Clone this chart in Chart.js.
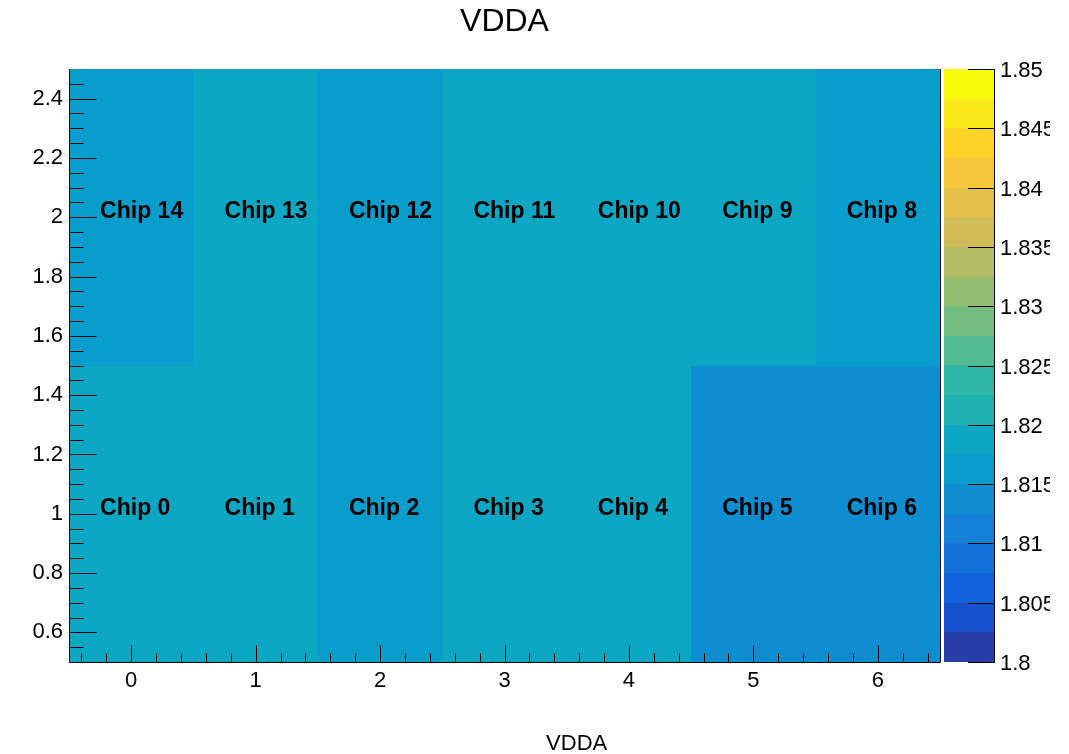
<!DOCTYPE html>
<html>
<head>
<meta charset="utf-8">
<title>VDDA</title>
<script src="https://cdn.jsdelivr.net/npm/chart.js@4.4.1/dist/chart.umd.min.js"></script>
<style>
  html, body { margin: 0; padding: 0; background: #ffffff; }
  canvas { display: block; }
</style>
</head>
<body>
<canvas id="chart" width="1069" height="754"></canvas>
<script>
// Module layout: seven columns, two rows of chips
const columns = [0, 1, 2, 3, 4, 5, 6];
const rowBottom = 1;
const rowTop = 2;
const chipsBottom = ['Chip 0', 'Chip 1', 'Chip 2', 'Chip 3', 'Chip 4', 'Chip 5', 'Chip 6'];
const chipsTop = ['Chip 14', 'Chip 13', 'Chip 12', 'Chip 11', 'Chip 10', 'Chip 9', 'Chip 8'];
// Measured VDDA per chip (V)
const vddaBottom = [1.819, 1.819, 1.816, 1.819, 1.819, 1.814, 1.814];
const vddaTop = [1.816, 1.819, 1.816, 1.819, 1.819, 1.819, 1.816];
// Axis ticks
const xTicks = [0, 1, 2, 3, 4, 5, 6];
const yTicks = [0.6, 0.8, 1, 1.2, 1.4, 1.6, 1.8, 2, 2.2, 2.4];
const zTicks = [1.8, 1.805, 1.81, 1.815, 1.82, 1.825, 1.83, 1.835, 1.84, 1.845, 1.85];
const zMin = 1.8;
const zMax = 1.85;
const nLevels = 20;
const titleText = 'VDDA';
const xTitleText = 'VDDA';

const FONT = '"Liberation Sans", Arial, Helvetica, sans-serif';

// "Bird" colour map (parula-like) stops
const birdStops = [0.0, 0.125, 0.25, 0.375, 0.5, 0.625, 0.75, 0.875, 1.0];
const birdR = [0.2082, 0.0592, 0.0780, 0.0232, 0.1802, 0.5301, 0.8186, 0.9956, 0.9764];
const birdG = [0.1664, 0.3599, 0.5041, 0.6419, 0.7178, 0.7492, 0.7328, 0.7862, 0.9832];
const birdB = [0.5293, 0.8684, 0.8385, 0.7914, 0.6425, 0.4662, 0.3499, 0.1968, 0.0539];

function birdColor(f) {
  f = Math.max(0, Math.min(1, f));
  let i = 0;
  while (i < birdStops.length - 2 && f > birdStops[i + 1]) i++;
  const t = (f - birdStops[i]) / (birdStops[i + 1] - birdStops[i]);
  const c = a => Math.round(255 * (a[i] + t * (a[i + 1] - a[i])));
  return `rgb(${c(birdR)},${c(birdG)},${c(birdB)})`;
}
// colour of contour level k (0..nLevels-1)
function levelColor(k) {
  const idx = Math.floor((k + 0.99) * 255 / nLevels);
  return birdColor(idx / 254);
}
function valueColor(v) {
  let k = Math.floor((v - zMin) / (zMax - zMin) * nLevels);
  k = Math.max(0, Math.min(nLevels - 1, k));
  return levelColor(k);
}

function cells() {
  const out = [];
  columns.forEach((x, i) => {
    out.push({ x, y: rowBottom, v: vddaBottom[i], label: chipsBottom[i] });
    out.push({ x, y: rowTop, v: vddaTop[i], label: chipsTop[i] });
  });
  return out;
}

const heatmapPlugin = {
  id: 'heatmap',
  beforeDatasetsDraw(chart) {
    const { ctx, chartArea: a, scales: { x, y } } = chart;
    ctx.save();
    ctx.beginPath();
    ctx.rect(a.left, a.top, a.right - a.left, a.bottom - a.top);
    ctx.clip();
    cells().forEach(c => {
      const x0 = x.getPixelForValue(c.x - 0.5), x1 = x.getPixelForValue(c.x + 0.5);
      const y0 = y.getPixelForValue(c.y + 0.5), y1 = y.getPixelForValue(c.y - 0.5);
      ctx.fillStyle = valueColor(c.v);
      ctx.fillRect(Math.round(x0), Math.round(y0), Math.round(x1) - Math.round(x0), Math.round(y1) - Math.round(y0));
    });
    ctx.restore();
  },
  afterDatasetsDraw(chart) {
    const { ctx, chartArea: a, scales: { x, y, z } } = chart;
    ctx.save();

    // histogram title, centred over the frame
    ctx.fillStyle = '#000';
    ctx.font = `32px ${FONT}`;
    ctx.textAlign = 'center';
    ctx.textBaseline = 'middle';
    ctx.fillText(titleText, (a.left + a.right) / 2, 22);

    // chip names
    ctx.font = `bold 23px ${FONT}`;
    ctx.textAlign = 'left';
    ctx.textBaseline = 'alphabetic';
    cells().forEach(c => {
      ctx.fillText(c.label, x.getPixelForValue(c.x - 0.25), y.getPixelForValue(c.y) + 1);
    });

    // frame
    ctx.strokeStyle = '#000';
    ctx.lineWidth = 1;
    const L = Math.round(a.left) + 0.5, R = Math.round(a.right) + 0.5;
    const B = Math.round(a.bottom) + 0.5, T = Math.round(a.top);
    ctx.beginPath();
    ctx.moveTo(L, T); ctx.lineTo(L, B); ctx.lineTo(R, B); ctx.lineTo(R, T);
    ctx.stroke();

    // inward ticks, y axis (major 0.2, minor 0.05)
    ctx.beginPath();
    for (let k = 1; k < 40; k++) {
      const v = 0.5 + k * 0.05;
      const py = Math.round(y.getPixelForValue(v)) + 0.5;
      const len = (k % 4 === 2) ? 27 : 14;
      ctx.moveTo(L, py); ctx.lineTo(L + len, py);
    }
    // inward ticks, x axis (major 1, minor 0.2)
    for (let k = 0; k <= 34; k++) {
      const v = -0.4 + k * 0.2;
      const px = Math.round(x.getPixelForValue(v)) + 0.5;
      const len = (k % 5 === 2) ? 17 : 9;
      ctx.moveTo(px, B); ctx.lineTo(px, B - len);
    }
    ctx.stroke();

    // colour scale
    const cbLeft = Math.round(a.right) + 4, cbRight = Math.round(a.right) + 54;
    for (let k = 0; k < nLevels; k++) {
      const v0 = zMin + k * (zMax - zMin) / nLevels;
      const v1 = zMin + (k + 1) * (zMax - zMin) / nLevels;
      const p0 = Math.round(z.getPixelForValue(v0)), p1 = Math.round(z.getPixelForValue(v1));
      ctx.fillStyle = levelColor(k);
      ctx.fillRect(cbLeft, p1, cbRight - cbLeft, p0 - p1);
    }
    ctx.strokeStyle = '#000';
    ctx.beginPath();
    ctx.moveTo(cbRight + 0.5, Math.round(z.getPixelForValue(zMax)));
    ctx.lineTo(cbRight + 0.5, Math.round(z.getPixelForValue(zMin)) + 1);
    zTicks.forEach(t => {
      const py = Math.round(z.getPixelForValue(t)) + 0.5;
      ctx.moveTo(cbRight - 26, py); ctx.lineTo(cbRight + 1, py);
    });
    ctx.stroke();

    ctx.save();
    ctx.beginPath();
    ctx.rect(0, 0, 1050, chart.height);
    ctx.clip();
    ctx.fillStyle = '#000';
    ctx.font = `22px ${FONT}`;
    ctx.textAlign = 'left';
    ctx.textBaseline = 'middle';
    zTicks.forEach(t => {
      ctx.fillText(String(Number(t.toFixed(3))), cbRight + 6, z.getPixelForValue(t) + 2);
    });
    ctx.restore();

    // x axis title
    ctx.fillStyle = '#000';
    ctx.font = `22px ${FONT}`;
    ctx.textAlign = 'center';
    ctx.textBaseline = 'alphabetic';
    ctx.fillText(xTitleText, x.getPixelForValue(3.58), 750);

    ctx.restore();
  }
};

new Chart(document.getElementById('chart'), {
  type: 'scatter',
  data: { datasets: [{ data: [], pointRadius: 0 }] },
  options: {
    responsive: false,
    animation: false,
    events: [],
    layout: { padding: { left: 0, right: 129, top: 69, bottom: 0 } },
    plugins: {
      legend: { display: false },
      tooltip: { enabled: false },
      title: { display: false }
    },
    scales: {
      x: {
        type: 'linear',
        min: -0.5,
        max: 6.5,
        afterBuildTicks: s => { s.ticks = xTicks.map(v => ({ value: v })); },
        afterFit: s => { s.height = 92; },
        grid: { display: false, drawTicks: false },
        border: { display: false },
        ticks: {
          color: '#000',
          padding: 6,
          font: { family: FONT, size: 22 },
          callback: v => String(v)
        }
      },
      y: {
        type: 'linear',
        min: 0.5,
        max: 2.5,
        afterBuildTicks: s => { s.ticks = yTicks.map(v => ({ value: v })); },
        afterFit: s => { s.width = 69; },
        grid: { display: false, drawTicks: false },
        border: { display: false },
        ticks: {
          color: '#000',
          padding: 6,
          font: { family: FONT, size: 22 },
          callback: v => String(Number(v.toFixed(2)))
        }
      },
      z: {
        type: 'linear',
        position: 'right',
        display: false,
        min: zMin,
        max: zMax
      }
    }
  },
  plugins: [heatmapPlugin]
});
</script>
</body>
</html>
